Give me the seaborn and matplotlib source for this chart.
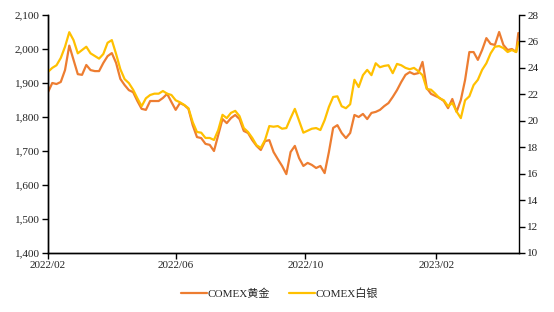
import matplotlib
matplotlib.use("Agg")
import matplotlib.pyplot as plt
import matplotlib.dates as mdates
import seaborn as sns
import pandas as pd

# ---- data ----
dates = list(pd.date_range("2022-02-01", "2023-04-17", freq="4D")) + [pd.Timestamp("2023-04-19")]

gold = [
    1873, 1900, 1897, 1903, 1938, 2010, 1968, 1926, 1924, 1953,
    1938, 1935, 1935, 1959, 1979, 1988, 1959, 1912, 1894, 1879,
    1873, 1847, 1824, 1821, 1847, 1847, 1847, 1856, 1868, 1844,
    1821, 1841, 1835, 1824, 1776, 1741, 1738, 1721, 1718, 1700,
    1747, 1794, 1782, 1797, 1806, 1794, 1759, 1753, 1732, 1715,
    1703, 1729, 1732, 1697, 1676, 1656, 1632, 1697, 1715, 1679,
    1656, 1665, 1659, 1650, 1656, 1635, 1697, 1768, 1776, 1753,
    1738, 1753, 1806, 1800, 1809, 1794, 1812, 1815, 1821, 1832,
    1841, 1859, 1879, 1903, 1924, 1932, 1926, 1929, 1962, 1885,
    1868, 1862, 1856, 1847, 1826, 1853, 1815, 1850, 1909, 1991,
    1991, 1968, 1997, 2032, 2015, 2012, 2050, 2012, 1997, 2000,
    1991, 2047,
]

silver = [
    23.7, 24.0, 24.2, 24.75, 25.6, 26.7, 26.1, 25.1, 25.35, 25.6,
    25.1, 24.9, 24.7, 25.05, 25.9, 26.1, 25.05, 23.9, 23.15, 22.85,
    22.35, 21.7, 21.1, 21.7, 21.95, 22.05, 22.05, 22.25, 22.05, 21.95,
    21.55, 21.4, 21.2, 20.95, 19.9, 19.15, 19.1, 18.7, 18.7, 18.55,
    19.3, 20.45, 20.2, 20.6, 20.75, 20.35, 19.45, 19.15, 18.7, 18.15,
    17.95, 18.55, 19.6, 19.55, 19.6, 19.4, 19.45, 20.2, 20.9, 20.0,
    19.1, 19.25, 19.4, 19.45, 19.3, 20.05, 21.05, 21.8, 21.85, 21.1,
    20.95, 21.25, 23.1, 22.55, 23.45, 23.85, 23.45, 24.35, 24.05, 24.15,
    24.2, 23.6, 24.3, 24.2, 24.0, 23.9, 24.0, 23.75, 23.45, 22.4,
    22.35, 22.05, 21.7, 21.55, 21.1, 21.35, 20.7, 20.2, 21.55, 21.85,
    22.7, 23.1, 23.85, 24.35, 25.1, 25.6, 25.65, 25.5, 25.2, 25.35,
    25.2, 25.95,
]

series_names = ["COMEX黄金", "COMEX白银"]
x_ticks = ["2022-02-01", "2022-06-01", "2022-10-01", "2023-02-01"]
left_ticks = [1400, 1500, 1600, 1700, 1800, 1900, 2000, 2100]
right_ticks = [10, 12, 14, 16, 18, 20, 22, 24, 26, 28]

df = pd.DataFrame({"date": dates, "gold": gold, "silver": silver})

# ---- style ----
sns.set_theme(style="white")
plt.rcParams["font.family"] = ["Liberation Serif", "Noto Sans CJK SC"]
plt.rcParams["axes.unicode_minus"] = False

GOLD_C = "#ED7D31"
SILVER_C = "#FFC000"

fig = plt.figure(figsize=(5.54, 3.12), dpi=100)
ax = fig.add_axes([48 / 554, 1 - 253 / 312, (519 - 48) / 554, (253 - 15) / 312])
ax2 = ax.twinx()

sns.lineplot(data=df, x="date", y="gold", ax=ax, color=GOLD_C, lw=1.6, label=series_names[0], legend=False)
sns.lineplot(data=df, x="date", y="silver", ax=ax2, color=SILVER_C, lw=1.6, label=series_names[1], legend=False)

ax.set_ylim(1400, 2100)
ax2.set_ylim(10, 28)
ax.set_yticks(left_ticks)
ax.set_yticklabels([f"{v:,}" for v in left_ticks])
ax2.set_yticks(right_ticks)
ax.set_xlim(pd.Timestamp("2022-02-01"), pd.Timestamp("2023-04-19 16:00"))
ax.set_xticks([pd.Timestamp(t) for t in x_ticks])
ax.xaxis.set_major_formatter(mdates.DateFormatter("%Y/%m"))

for a in (ax, ax2):
    a.set_xlabel("")
    a.set_ylabel("")
    a.grid(False)
    a.spines["top"].set_visible(False)
    for side in ("left", "right", "bottom"):
        a.spines[side].set_color("black")
        a.spines[side].set_linewidth(1.0)

ax.tick_params(axis="y", which="major", direction="out", length=4, width=1, color="black",
               labelsize=8, pad=2, left=True, labelcolor="#222222")
ax.tick_params(axis="x", which="major", direction="out", length=4, width=1, color="black",
               labelsize=8, pad=2, bottom=True, labelcolor="#222222")
ax2.tick_params(axis="y", which="major", direction="out", length=4, width=1, color="black",
                labelsize=8, pad=2, right=True, labelcolor="#222222")
ax.spines["right"].set_visible(False)

h1, l1 = ax.get_legend_handles_labels()
h2, l2 = ax2.get_legend_handles_labels()
fig.legend(h1 + h2, l1 + l2, loc="center", bbox_to_anchor=(0.505, 0.06), ncol=2,
           frameon=False, fontsize=8, handlelength=2.3, handletextpad=0.1,
           columnspacing=1.7)

fig.savefig("out.png", dpi=100)
